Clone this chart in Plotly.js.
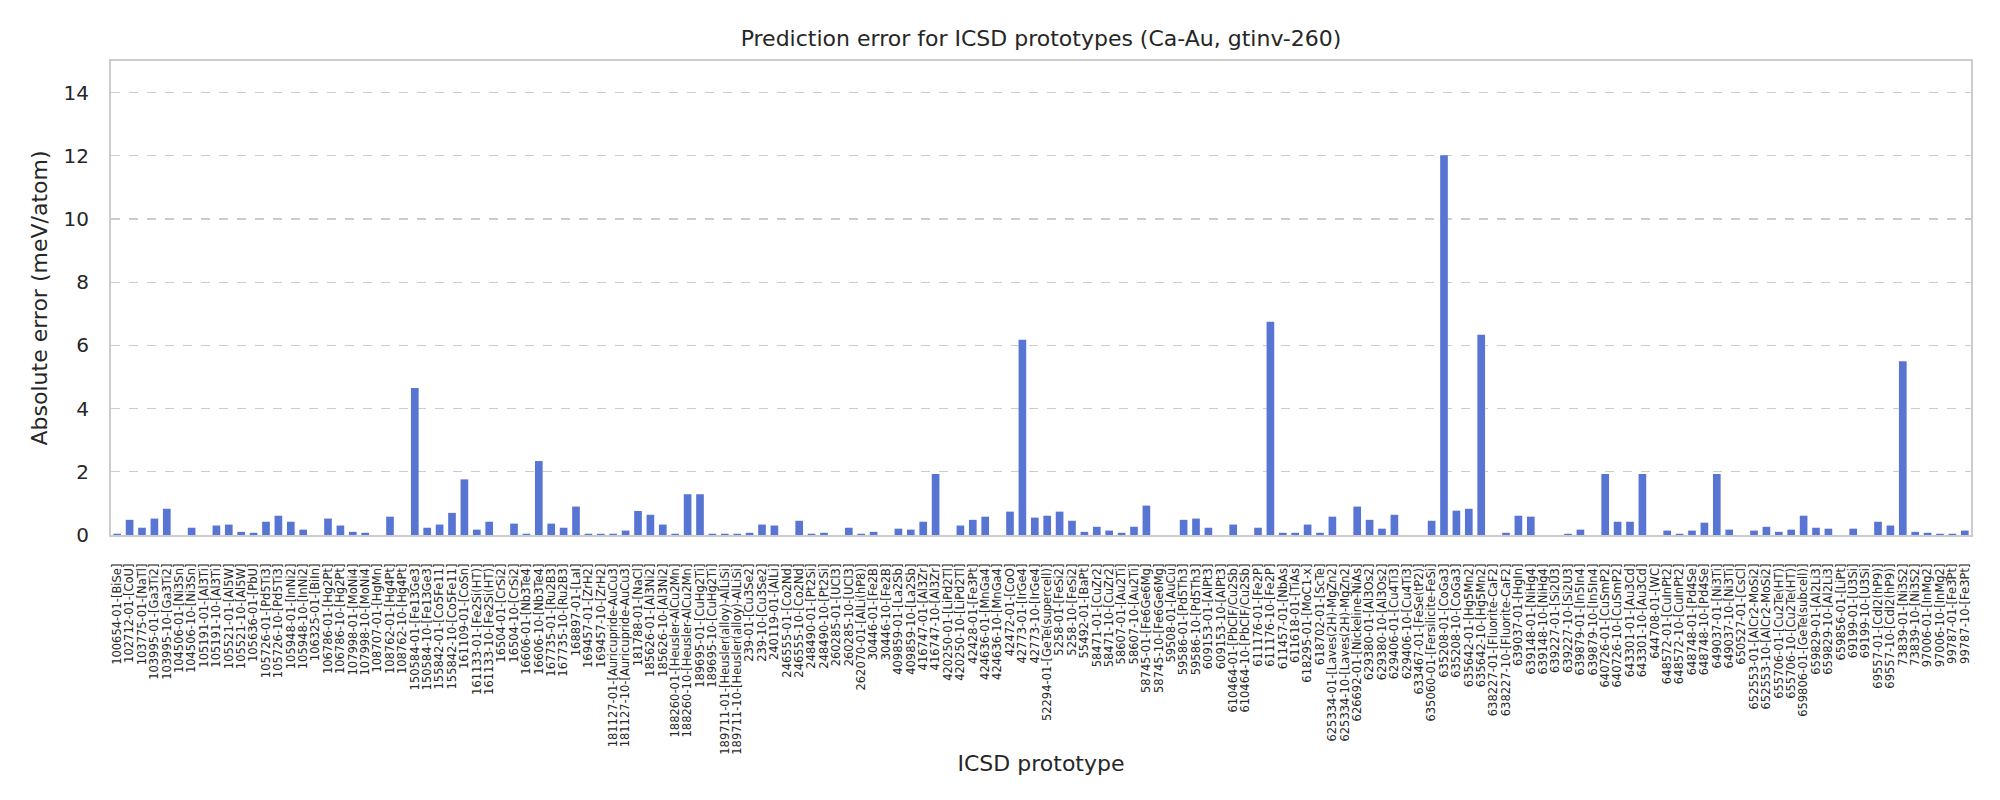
<!DOCTYPE html>
<html>
<head>
<meta charset="utf-8">
<script src="https://cdn.plot.ly/plotly-3.0.1.min.js"></script>
<style>html,body{margin:0;padding:0;background:#fff;}#chart{width:2000px;height:800px;}</style>
</head>
<body>
<div id="chart"></div>
<script>
const prototypes = [
"100654-01-[BiSe]","102712-01-[CoU]","103775-01-[NaTl]","103995-01-[Ga3Ti2]","103995-10-[Ga3Ti2]",
"104506-01-[Ni3Sn]","104506-10-[Ni3Sn]","105191-01-[Al3Ti]","105191-10-[Al3Ti]","105521-01-[Al5W]",
"105521-10-[Al5W]","105636-01-[PbU]","105726-01-[Pd5Ti3]","105726-10-[Pd5Ti3]","105948-01-[InNi2]",
"105948-10-[InNi2]","106325-01-[BiIn]","106786-01-[Hg2Pt]","106786-10-[Hg2Pt]","107998-01-[MoNi4]",
"107998-10-[MoNi4]","108707-01-[HgMn]","108762-01-[Hg4Pt]","108762-10-[Hg4Pt]","150584-01-[Fe13Ge3]",
"150584-10-[Fe13Ge3]","155842-01-[Co5Fe11]","155842-10-[Co5Fe11]","161109-01-[CoSn]","161133-01-[Fe2Si(HT)]",
"161133-10-[Fe2Si(HT)]","16504-01-[CrSi2]","16504-10-[CrSi2]","16606-01-[Nb3Te4]","16606-10-[Nb3Te4]",
"167735-01-[Ru2B3]","167735-10-[Ru2B3]","168897-01-[LaI]","169457-01-[ZrH2]","169457-10-[ZrH2]",
"181127-01-[Auricupride-AuCu3]","181127-10-[Auricupride-AuCu3]","181788-01-[NaCl]","185626-01-[Al3Ni2]","185626-10-[Al3Ni2]",
"188260-01-[Heusler-AlCu2Mn]","188260-10-[Heusler-AlCu2Mn]","189695-01-[CuHg2Ti]","189695-10-[CuHg2Ti]","189711-01-[Heusler(alloy)-AlLiSi]",
"189711-10-[Heusler(alloy)-AlLiSi]","239-01-[Cu3Se2]","239-10-[Cu3Se2]","240119-01-[AlLi]","246555-01-[Co2Nd]",
"246555-10-[Co2Nd]","248490-01-[Pt2Si]","248490-10-[Pt2Si]","260285-01-[UCl3]","260285-10-[UCl3]",
"262070-01-[AlLi(hP8)]","30446-01-[Fe2B]","30446-10-[Fe2B]","409859-01-[La2Sb]","409859-10-[La2Sb]",
"416747-01-[Al3Zr]","416747-10-[Al3Zr]","420250-01-[LiPd2Tl]","420250-10-[LiPd2Tl]","42428-01-[Fe3Pt]",
"424636-01-[MnGa4]","424636-10-[MnGa4]","42472-01-[CoO]","42773-01-[IrGe4]","42773-10-[IrGe4]",
"52294-01-[GeTe(supercell)]","5258-01-[FeSi2]","5258-10-[FeSi2]","55492-01-[BaPt]","58471-01-[CuZr2]",
"58471-10-[CuZr2]","58607-01-[Au2Ti]","58607-10-[Au2Ti]","58745-01-[Fe6Ge6Mg]","58745-10-[Fe6Ge6Mg]",
"59508-01-[AuCu]","59586-01-[Pd5Th3]","59586-10-[Pd5Th3]","609153-01-[AlPt3]","609153-10-[AlPt3]",
"610464-01-[PbClF/Cu2Sb]","610464-10-[PbClF/Cu2Sb]","611176-01-[Fe2P]","611176-10-[Fe2P]","611457-01-[NbAs]",
"611618-01-[TiAs]","618295-01-[MoC1-x]","618702-01-[ScTe]","625334-01-[Laves(2H)-MgZn2]","625334-10-[Laves(2H)-MgZn2]",
"626692-01-[Nickeline-NiAs]","629380-01-[Al3Os2]","629380-10-[Al3Os2]","629406-01-[Cu4Ti3]","629406-10-[Cu4Ti3]",
"633467-01-[FeSe(tP2)]","635060-01-[Fersilicite-FeSi]","635208-01-[CoGa3]","635208-10-[CoGa3]","635642-01-[Hg5Mn2]",
"635642-10-[Hg5Mn2]","638227-01-[Fluorite-CaF2]","638227-10-[Fluorite-CaF2]","639037-01-[HgIn]","639148-01-[NiHg4]",
"639148-10-[NiHg4]","639227-01-[Si2U3]","639227-10-[Si2U3]","639879-01-[In5In4]","639879-10-[In5In4]",
"640726-01-[CuSmP2]","640726-10-[CuSmP2]","643301-01-[Au3Cd]","643301-10-[Au3Cd]","644708-01-[WC]",
"648572-01-[CuInPt2]","648572-10-[CuInPt2]","648748-01-[Pd4Se]","648748-10-[Pd4Se]","649037-01-[Ni3Ti]",
"649037-10-[Ni3Ti]","650527-01-[CsCl]","652553-01-[AlCr2-MoSi2]","652553-10-[AlCr2-MoSi2]","655706-01-[Cu2Te(HT)]",
"655706-10-[Cu2Te(HT)]","659806-01-[GeTe(subcell)]","659829-01-[Al2Li3]","659829-10-[Al2Li3]","659856-01-[LiPt]",
"69199-01-[U3Si]","69199-10-[U3Si]","69557-01-[CdI2(hP9)]","69557-10-[CdI2(hP9)]","73839-01-[Ni3S2]",
"73839-10-[Ni3S2]","97006-01-[InMg2]","97006-10-[InMg2]","99787-01-[Fe3Pt]","99787-10-[Fe3Pt]"
];

const absErrors = [
0.04,0.48,0.23,0.52,0.83, 0,0.23,0,0.30,0.33,
0.10,0.07,0.42,0.61,0.42, 0.17,0,0.52,0.30,0.10,
0.07,0,0.58,0,4.65, 0.23,0.33,0.70,1.76,0.17,
0.42,0,0.36,0.04,2.34, 0.36,0.23,0.90,0.04,0.04,
0.04,0.14,0.76,0.64,0.33, 0.04,1.29,1.29,0.04,0.04,
0.04,0.07,0.33,0.30,0, 0.45,0.04,0.07,0,0.23,
0.04,0.10,0,0.20,0.17, 0.42,1.93,0,0.30,0.48,
0.58,0,0.74,6.18,0.55, 0.61,0.74,0.45,0.10,0.26,
0.14,0.07,0.26,0.93,0, 0,0.48,0.52,0.23,0,
0.33,0,0.23,6.75,0.07, 0.07,0.33,0.07,0.58,0,
0.90,0.48,0.20,0.64,0, 0,0.45,12.02,0.77,0.83,
6.34,0,0.07,0.61,0.58, 0,0,0.04,0.17,0,
1.93,0.42,0.42,1.93,0, 0.14,0.04,0.14,0.39,1.93,
0.17,0,0.14,0.26,0.10, 0.17,0.61,0.23,0.20,0,
0.20,0,0.42,0.30,5.50, 0.10,0.07,0.04,0.04,0.14
];

const yTicks = [0,2,4,6,8,10,12,14];

const txt = '#262626';
const fontFam = '"DejaVu Sans", sans-serif';

Plotly.newPlot('chart', [{
  type: 'bar',
  x: prototypes,
  y: absErrors,
  marker: {color: '#5875d3', line: {width: 0}},
  hoverinfo: 'x+y'
}], {
  width: 2000, height: 800,
  paper_bgcolor: '#fff', plot_bgcolor: '#fff',
  margin: {l: 111, r: 29, t: 61, b: 265},
  bargap: 0.38,
  showlegend: false,
  font: {family: fontFam, color: txt},
  title: {text: 'Prediction error for ICSD prototypes (Ca-Au, gtinv-260)',
          font: {size: 22, color: txt, family: fontFam},
          xref: 'paper', x: 0.5, xanchor: 'center', yref: 'container', y: 1 - 38/800, yanchor: 'middle'},
  xaxis: {
    type: 'category',
    tickmode: 'array',
    tickvals: prototypes,
    ticktext: prototypes,
    tickangle: -90,
    tickfont: {size: 11.5, color: txt, family: fontFam},
    showgrid: false, zeroline: false,
    showline: true, mirror: true, linecolor: '#cccccc', linewidth: 2,
    ticks: '', ticklabelstandoff: 22,
    automargin: false,
    title: {text: 'ICSD prototype', font: {size: 22, color: txt, family: fontFam}, standoff: 2}
  },
  yaxis: {
    range: [0, 15],
    tickmode: 'array',
    tickvals: yTicks,
    ticktext: yTicks.map(String),
    tickfont: {size: 20, color: txt, family: fontFam},
    showgrid: true, gridcolor: '#cccccc', griddash: 'dash', gridwidth: 1.3,
    zeroline: false,
    showline: true, mirror: true, linecolor: '#cccccc', linewidth: 2,
    ticks: '', ticklabelstandoff: 16,
    automargin: false,
    title: {text: 'Absolute error (meV/atom)', font: {size: 22, color: txt, family: fontFam}, standoff: 10}
  }
}, {displayModeBar: false, staticPlot: true});
</script>
</body>
</html>
